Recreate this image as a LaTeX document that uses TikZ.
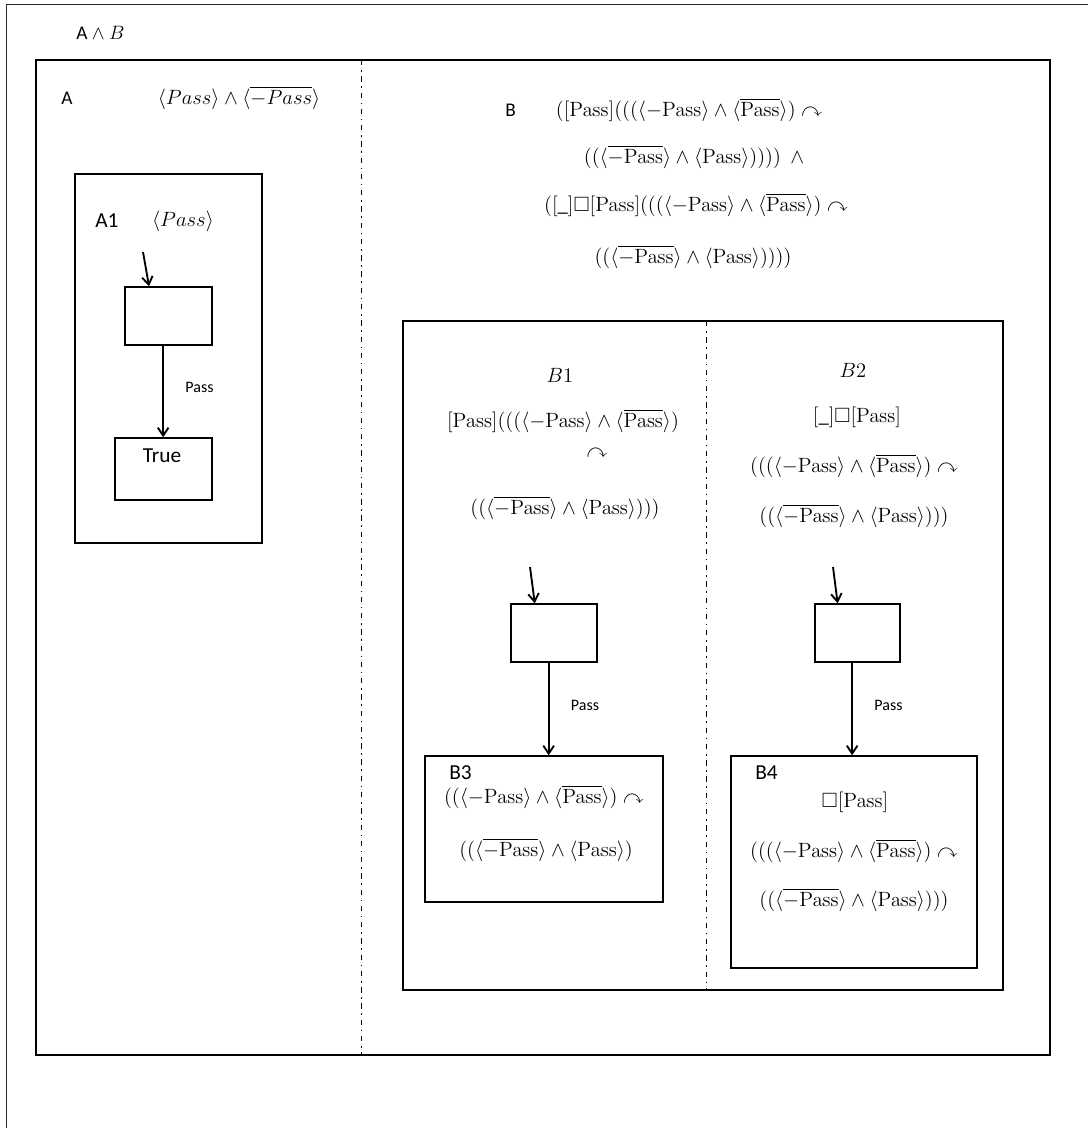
\RequirePackage{fix-cm}
\documentclass[tikz,border=0pt]{standalone}
\usepackage{amssymb}
\usepackage[no-math]{fontspec}
\setmainfont{Carlito}
\usetikzlibrary{arrows.meta,fit,calc}

\newcommand{\PsR}{\mathrm{Pass}}
\newcommand{\NegBar}{\langle\overline{-\PsR}\rangle}
\newcommand{\PBar}{\langle\overline{\PsR}\rangle}
\newcommand{\NegP}{\langle -\PsR\rangle}
\newcommand{\PAng}{\langle\PsR\rangle}
\newcommand{\mfnt}{\fontsize{15.5}{18}\selectfont}

\tikzset{
  box/.style={draw=black, line width=1.1pt, inner sep=0pt},
  lbl/.style={font=\fontsize{14.5}{16}\selectfont, inner sep=0pt},
  blbl/.style={font=\fontsize{16}{18}\selectfont, inner sep=0pt},
  small/.style={font=\fontsize{12}{14}\selectfont, inner sep=0pt},
  mth/.style={font=\mfnt, inner sep=0pt},
  arr/.style={line width=1.4pt, -{Straight Barb[length=6pt,width=8pt,line width=1.4pt]}},
  dd/.style={line width=0.75pt, dash pattern=on 4pt off 3.5pt on 1.2pt off 3.5pt}
}

\begin{document}
\begin{tikzpicture}[x=0.75pt,y=-0.75pt]
\useasboundingbox (0,0) rectangle (1091,1128);

% outer frame
\draw[line width=1.3pt, draw=black!85] (6.5,1130) -- (6.5,4.5) -- (1088,4.5);
\node[lbl, anchor=west] (tAB) at (76,33) {A $\wedge$ $B$};

% main box
\node[box, fit={(36,60) (1050,1055)}] (main) {};
\draw[dd] (361,60) -- (361,1055);

% ---- A ----
\node[lbl, anchor=west] (tA) at (61,98) {A};
\node[mth] (fA) at (239,98) {$\langle Pass\rangle \wedge \langle\overline{-Pass}\rangle$};

\node[box, fit={(75,174) (262,543)}] (A1) {};
\node[blbl, anchor=west] (tA1) at (95,221) {A1};
\node[mth] (fA1) at (183,221) {$\langle Pass\rangle$};
\node[box, fit={(125,287) (212,345)}] (sA) {};
\node[box, fit={(115,438) (212,500)}] (tT) {};
\node[blbl] (tTrue) at (162,456) {True};
\coordinate (iA) at (143,252);
\draw[arr] (iA) -- ($(sA.north west)!0.28!(sA.north east)$);
\draw[arr] ([xshift=-4pt]sA.south) -- node[small, anchor=west, xshift=16pt, yshift=3pt] {Pass} ([xshift=-4pt]sA.south |- tT.north);

% ---- B ----
\node[lbl, anchor=west] (tB) at (505,110) {B};
\node[mth] (fB1) at (689,110) {$([\PsR](((\NegP \wedge \PBar) \curvearrowright$};
\node[mth] (fB2) at (694,157) {$((\NegBar \wedge \PAng))))\ \ \wedge$};
\node[mth] (fB3) at (696,205) {$([\_]\square[\PsR](((\NegP \wedge \PBar) \curvearrowright$};
\node[mth] (fB4) at (693,257) {$((\NegBar \wedge \PAng))))$};

\node[box, fit={(403,321) (1003,990)}] (Bin) {};
\draw[dd] (706,321) -- (706,990);

% B1
\node[mth] (tB1) at (560,375) {$B1$};
\node[mth] (fB1a) at (563,421) {$[\PsR](((\NegP \wedge \PBar)$};
\node[mth] (fB1b) at (597,453) {$\curvearrowright$};
\node[mth] (fB1c) at (565,508) {$((\NegBar \wedge \PAng)))$};
\node[box, fit={(511,604) (597,662)}] (sB1) {};
\node[box, fit={(425,756) (663,902)}] (B3) {};
\coordinate (iB1) at (530,567);
\draw[arr] (iB1) -- ($(sB1.north west)!0.28!(sB1.north east)$);
\draw[arr] ([xshift=-4pt]sB1.south) -- node[small, anchor=west, xshift=16pt, yshift=3pt] {Pass} ([xshift=-4pt]sB1.south |- B3.north);
\node[blbl, anchor=west] (tB3) at (449,773) {B3};
\node[mth] (fB3a) at (544,797) {$((\NegP \wedge \PBar) \curvearrowright$};
\node[mth] (fB3b) at (546,850) {$((\NegBar \wedge \PAng)$};

% B2
\node[mth] (tB2) at (853,370) {$B2$};
\node[mth] (fB2a) at (857,417) {$[\_]\square[\PsR]$};
\node[mth] (fB2b) at (854,466) {$(((\NegP \wedge \PBar) \curvearrowright$};
\node[mth] (fB2c) at (854,516) {$((\NegBar \wedge \PAng)))$};
\node[box, fit={(815,604) (900,662)}] (sB2) {};
\node[box, fit={(731,756) (977,968)}] (B4) {};
\coordinate (iB2) at (833,567);
\draw[arr] (iB2) -- ($(sB2.north west)!0.27!(sB2.north east)$);
\draw[arr] ([xshift=-4pt]sB2.south) -- node[small, anchor=west, xshift=16pt, yshift=3pt] {Pass} ([xshift=-4pt]sB2.south |- B4.north);
\node[blbl, anchor=west] (tB4) at (755,773) {B4};
\node[mth] (fB4a) at (855,802) {$\square[\PsR]$};
\node[mth] (fB4b) at (854,851) {$(((\NegP \wedge \PBar) \curvearrowright$};
\node[mth] (fB4c) at (854,900) {$((\NegBar \wedge \PAng)))$};
\end{tikzpicture}
\end{document}
